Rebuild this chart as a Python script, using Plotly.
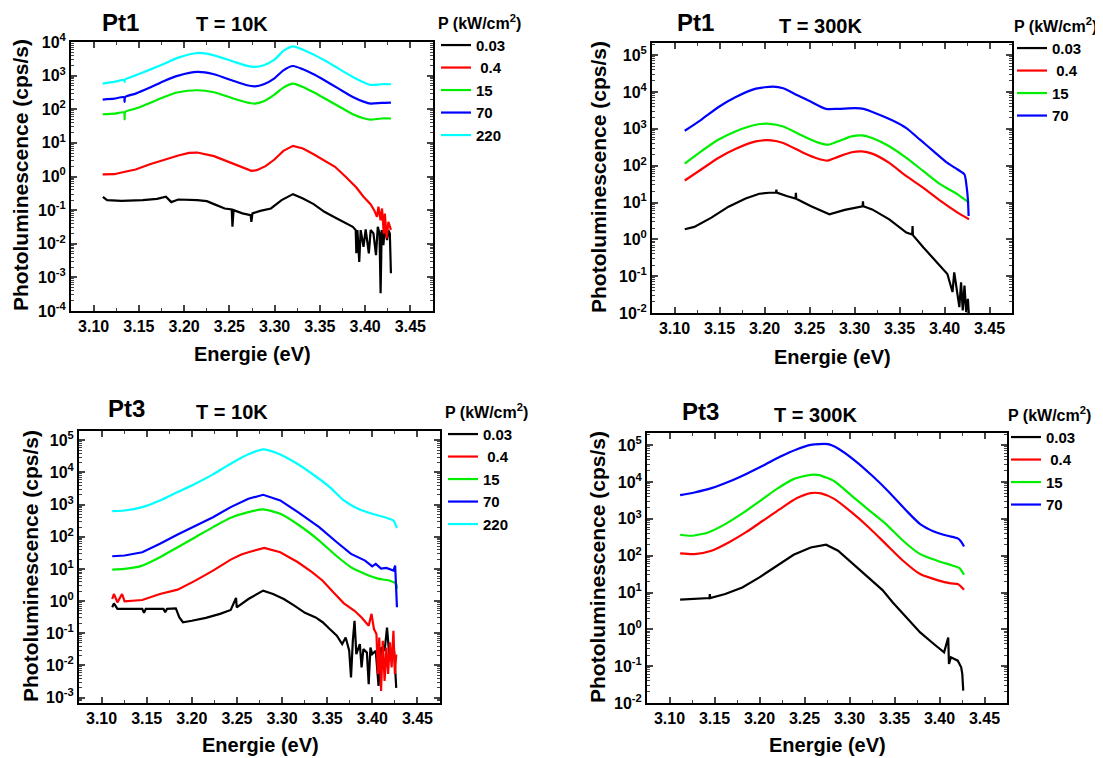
import plotly.graph_objects as go

# The page body has an 8 px margin, so the figure is drawn 8 px in from the top-left corner.
OFF = 8
W, H = 1103 - OFF, 758 - OFF
FONT = "Liberation Sans"

# ---------------- Panel 1 : Pt1, T = 10K ----------------
p1_E = [3.110, 3.1228, 3.1336, 3.1342, 3.1348, 3.1464, 3.1622, 3.1779, 3.1936, 3.2145, 3.233, 3.2526,
        3.2684, 3.2782, 3.288, 3.2998, 3.3097, 3.3203, 3.3313, 3.3431, 3.355, 3.3707, 3.3864, 3.3982,
        3.406, 3.4179, 3.4285]
p1_220 = [578, 649, 745, 650, 760, 1023, 1507, 2270, 3427, 4713, 4018, 2731, 1982, 1809, 2028, 2985,
          5410, 7431, 5918, 4208, 2852, 1614, 912, 634, 528, 554, 554]
p1_70 = [194, 207, 228, 165, 232, 292, 440, 695, 1000, 1285, 1096, 727, 528, 482, 554, 834, 1439, 1936,
         1542, 1096, 727, 411, 232, 169, 147, 154, 158]
p1_15 = [71, 74, 81, 50, 83, 105, 154, 232, 320, 367, 320, 217, 162, 147, 173, 273, 440, 578, 460, 320,
         212, 123, 71, 54, 49, 53, 53]
p1_E_04 = [3.110, 3.1228, 3.1346, 3.1464, 3.1622, 3.1779, 3.1936, 3.2054, 3.2145, 3.233, 3.2526, 3.2684,
           3.2743, 3.2802, 3.29, 3.2998, 3.3097, 3.3203, 3.3313, 3.3431, 3.355, 3.3667, 3.3785, 3.3903,
           3.3982, 3.406, 3.41, 3.4131, 3.4147, 3.4171, 3.4187, 3.4206, 3.4218, 3.4238, 3.4257, 3.4285]
p1_04 = [1.15, 1.17, 1.38, 1.61, 2.32, 3.20, 4.21, 5.05, 5.16, 4.02, 2.55, 1.73, 1.47, 1.54, 2.03, 3.20,
         5.78, 8.15, 6.79, 4.60, 3.05, 1.94, 0.98, 0.47, 0.25, 0.15, 0.10, 0.063, 0.126, 0.050, 0.112,
         0.020, 0.079, 0.0145, 0.045, 0.026]
p1_E_003 = [3.1102, 3.1149, 3.1307, 3.1543, 3.170, 3.1799, 3.1858, 3.1936, 3.2145, 3.2251, 3.233, 3.2448,
            3.2526, 3.2534, 3.2546, 3.2644, 3.2735, 3.2743, 3.2755, 3.2841, 3.2959, 3.3077, 3.3203,
            3.3313, 3.3431, 3.355, 3.3667, 3.3785, 3.3864, 3.3896, 3.3903, 3.3915, 3.3935, 3.3951,
            3.3982, 3.4006, 3.4041, 3.4061, 3.4092, 3.412, 3.414, 3.4159, 3.4171, 3.4183, 3.4202,
            3.4218, 3.4242, 3.4257, 3.4273, 3.4285]
p1_003 = [0.249, 0.198, 0.189, 0.198, 0.217, 0.249, 0.173, 0.207, 0.198, 0.185, 0.151, 0.112, 0.105,
          0.032, 0.100, 0.080, 0.071, 0.045, 0.080, 0.095, 0.112, 0.198, 0.299, 0.222, 0.151, 0.089,
          0.0605, 0.042, 0.032, 0.0255, 0.0052, 0.0255, 0.0029, 0.0255, 0.0081, 0.0267, 0.0052, 0.0255,
          0.0203, 0.0046, 0.032, 0.0203, 0.000335, 0.0255, 0.0091, 0.032, 0.0129, 0.0255, 0.0203, 0.00132]

# ---------------- Panel 2 : Pt1, T = 300K ----------------
p2_E_70 = [3.1114, 3.1296, 3.1486, 3.1676, 3.1904, 3.2094, 3.2208, 3.236, 3.2512, 3.2683, 3.2816, 3.3006,
           3.3101, 3.3234, 3.3424, 3.3576, 3.3728, 3.388, 3.4032, 3.4146, 3.4222, 3.4245, 3.426, 3.4268]
p2_70 = [887, 1758, 3860, 7200, 12330, 13960, 12590, 8320, 5500, 3480, 3480, 3630, 3480, 2660, 1686,
         1047, 507, 245, 119, 78.5, 57.5, 27.9, 12.2, 4.3]
p2_E_15 = [3.1114, 3.1296, 3.1486, 3.1676, 3.1904, 3.2056, 3.2208, 3.2436, 3.2588, 3.271, 3.2816, 3.2968,
           3.3082, 3.3196, 3.3386, 3.3576, 3.3766, 3.3956, 3.4146, 3.4272]
p2_15 = [114, 245, 507, 851, 1288, 1370, 1160, 624, 430, 372, 457, 624, 664, 562, 335, 162, 70.8, 30.9,
         16.6, 9.9]
p2_E_04 = [3.1114, 3.1296, 3.1486, 3.1676, 3.1904, 3.2075, 3.2208, 3.2436, 3.2588, 3.2702, 3.2816, 3.2968,
           3.3082, 3.3196, 3.3386, 3.3576, 3.3766, 3.3956, 3.4146, 3.4272]
p2_04 = [39.6, 78.5, 162, 284, 457, 486, 412, 221, 156, 137, 173, 231, 245, 212, 119, 51.9, 25.1, 11.0,
         5.3, 3.5]
p2_E_003 = [3.1114, 3.122, 3.141, 3.16, 3.179, 3.1942, 3.2056, 3.2128, 3.2132, 3.2136, 3.2246, 3.2345,
            3.2349, 3.2353, 3.2512, 3.2683, 3.2721, 3.2892, 3.3044, 3.309, 3.3094, 3.3098, 3.3196, 3.3386,
            3.3576, 3.3641, 3.3645, 3.3649, 3.3766, 3.388, 3.3956, 3.4032, 3.4089, 3.4108, 3.4165,
            3.4184, 3.4203, 3.4222, 3.4241, 3.426, 3.4272]
p2_003 = [1.88, 2.18, 3.89, 7.7, 12.9, 17.3, 18.4, 18.6, 22.5, 18.6, 15, 12.8, 18.4, 12.6, 8.0, 5.3, 4.8,
          6.3, 7.7, 7.9, 10.8, 7.9, 6.5, 3.5, 1.53, 1.35, 2.3, 1.3, 0.60, 0.29, 0.174, 0.115, 0.037,
          0.127, 0.0145, 0.068, 0.0117, 0.0556, 0.0106, 0.0243, 0.008]

# ---------------- Panel 3 : Pt3, T = 10K ----------------
p3_E_220 = [3.1118, 3.1255, 3.1451, 3.1647, 3.1843, 3.2039, 3.2235, 3.2431, 3.2627, 3.2791, 3.294, 3.3136,
            3.3332, 3.3528, 3.3685, 3.3842, 3.3999, 3.4156, 3.4234, 3.4273]
p3_220 = [627, 657, 836, 1349, 2455, 4467, 8710, 18750, 36640, 52480, 40270, 21130, 9120, 3510, 1349, 741,
          518, 389, 321, 185]
p3_E_70 = [3.1118, 3.1255, 3.1451, 3.1647, 3.1843, 3.2039, 3.2235, 3.2431, 3.2627, 3.2791, 3.298, 3.3176,
           3.3411, 3.3607, 3.3764, 3.392, 3.3999, 3.4038, 3.4097, 3.4156, 3.4234, 3.4253, 3.4265, 3.4273]
p3_70 = [24.8, 26.1, 33.1, 60.3, 117, 224, 407, 836, 1520, 2023, 1349, 583, 200, 67.6, 29.4, 18.2, 12.0,
         14.3, 10.2, 10.7, 8.9, 12.7, 1.66, 0.64]
p3_E_15 = [3.1118, 3.1255, 3.1451, 3.1647, 3.1843, 3.2039, 3.2235, 3.2431, 3.2627, 3.2791, 3.298, 3.3176,
           3.3411, 3.3607, 3.3764, 3.392, 3.4077, 3.4195, 3.4265, 3.4273]
p3_15 = [9.5, 10, 12.7, 23.1, 47.3, 97, 200, 389, 583, 708, 518, 241, 76.4, 24.8, 11.3, 7.0, 4.9, 4.3, 3.4,
         2.4]
p3_E_04 = [3.1118, 3.1137, 3.1176, 3.1227, 3.1255, 3.1451, 3.1647, 3.1765, 3.1843, 3.2039, 3.2235, 3.2431,
           3.2549, 3.2627, 3.2803, 3.298, 3.3176, 3.3332, 3.345, 3.3568, 3.3685, 3.3803, 3.3881, 3.396,
           3.3991, 3.4018, 3.4046, 3.4062, 3.4077, 3.4097, 3.4116, 3.4136, 3.4156, 3.4175, 3.4195,
           3.4214, 3.4234, 3.425, 3.4265]
p3_04 = [1.16, 1.66, 0.91, 1.66, 0.98, 1.08, 1.66, 2.01, 2.27, 4.32, 8.87, 19.5, 28, 33, 45.2, 33, 16.1,
         7.9, 4.3, 1.87, 0.85, 0.50, 0.31, 0.17, 0.40, 0.135, 0.094, 0.0054, 0.074, 0.0016, 0.058, 0.0033,
         0.036, 0.0054, 0.052, 0.0086, 0.12, 0.0054, 0.022]
p3_E_003 = [3.1118, 3.1137, 3.1176, 3.1451, 3.147, 3.149, 3.1686, 3.1705, 3.1725, 3.1823, 3.1862, 3.1902,
            3.20, 3.2156, 3.2313, 3.2431, 3.249, 3.2498, 3.2627, 3.2791, 3.29, 3.3019, 3.3136, 3.3254,
            3.3372, 3.345, 3.3528, 3.3607, 3.3666, 3.3705, 3.3744, 3.3764, 3.3784, 3.3803, 3.3823,
            3.3862, 3.3881, 3.3901, 3.394, 3.396, 3.3979, 3.3999, 3.4038, 3.4069, 3.4097, 3.4136,
            3.4163, 3.4187, 3.4214, 3.4242, 3.4265]
p3_003 = [0.64, 0.85, 0.57, 0.57, 0.43, 0.57, 0.57, 0.45, 0.57, 0.59, 0.31, 0.22, 0.245, 0.30, 0.40,
          0.53, 1.25, 0.64, 1.16, 2.11, 1.66, 1.16, 0.72, 0.43, 0.31, 0.22, 0.135, 0.0836, 0.046, 0.074,
          0.0285, 0.0042, 0.058, 0.245, 0.0224, 0.046, 0.0086, 0.032, 0.025, 0.0026, 0.036, 0.0224,
          0.0285, 0.0023, 0.036, 0.0285, 0.15, 0.0224, 0.0177, 0.0285, 0.002]

# ---------------- Panel 4 : Pt3, T = 300K ----------------
p4_E_70 = [3.1118, 3.1277, 3.1467, 3.1657, 3.1847, 3.2037, 3.2227, 3.2417, 3.2569, 3.2759, 3.2873, 3.3063,
           3.3253, 3.3443, 3.3633, 3.3785, 3.3937, 3.4089, 3.4203, 3.4241, 3.4272]
p4_70 = [4400, 5200, 6810, 10120, 16330, 27480, 48190, 77800, 102000, 106400, 81300, 37580, 14720, 5200,
         1652, 719, 455, 347, 294, 238, 178]
p4_E_15 = [3.1118, 3.1239, 3.1429, 3.1619, 3.1809, 3.1999, 3.2189, 3.2379, 3.2569, 3.2664, 3.2835, 3.3025,
           3.3215, 3.3405, 3.3595, 3.3785, 3.3975, 3.4127, 3.4222, 3.4272]
p4_15 = [369, 347, 427, 719, 1400, 2965, 6400, 11970, 15680, 15350, 10320, 4220, 1722, 719, 254, 110, 72.8,
         55.5, 46, 30.3]
p4_E_04 = [3.1118, 3.1277, 3.1467, 3.1657, 3.1847, 3.2037, 3.2227, 3.2417, 3.2569, 3.2683, 3.2835, 3.3025,
           3.3215, 3.3405, 3.3595, 3.3785, 3.3975, 3.4127, 3.4203, 3.4272]
p4_04 = [115, 110, 136, 229, 427, 885, 1835, 3650, 4990, 4890, 3425, 1490, 583, 206, 72.8, 31.6, 21.7,
         17.7, 16.9, 11.9]
p4_E_003 = [3.1118, 3.1277, 3.1444, 3.1448, 3.1452, 3.1619, 3.1809, 3.1999, 3.2189, 3.2379, 3.2569, 3.274,
            3.2873, 3.3063, 3.3253, 3.3367, 3.3481, 3.3633, 3.3785, 3.3937, 3.4051, 3.4097, 3.4105,
            3.4127, 3.4203, 3.4241, 3.4253, 3.4264]
p4_003 = [6.37, 6.64, 7.08, 9.06, 7.08, 9.06, 13.7, 25.7, 53.2, 106, 167, 198, 136, 53.2, 20.8, 11.6, 5.38,
          2.11, 0.826, 0.40, 0.237, 0.60, 0.115, 0.174, 0.141, 0.093, 0.062, 0.0216]

colors = {"0.03": "#000000", " 0.4": "#ff0000", "15": "#00ee00", "70": "#0000ff", "220": "#00ffff"}

# positions below are in screenshot pixels (x from left, y from top)
panels = [
    dict(series=[("0.03", p1_E_003, p1_003, False), (" 0.4", p1_E_04, p1_04, False),
                 ("15", p1_E, p1_15, True), ("70", p1_E, p1_70, True), ("220", p1_E, p1_220, True)],
         box=(71, 433, 42, 311), yr=(-4, 4), ytv=list(range(-4, 5)),
         pt="Pt1", T="T = 10K", pt_xy=(120, 22), T_xy=(232, 24),
         xt_xy=(252, 354), yt_xy=(20, 175), leg_xy=(436, 8)),
    dict(series=[("0.03", p2_E_003, p2_003, False), (" 0.4", p2_E_04, p2_04, True),
                 ("15", p2_E_15, p2_15, True), ("70", p2_E_70, p2_70, True)],
         box=(652, 1012, 43, 313), yr=(-2, 5.33), ytv=list(range(-2, 6)),
         pt="Pt1", T="T = 300K", pt_xy=(695, 22), T_xy=(821, 26),
         xt_xy=(832, 357), yt_xy=(598, 177), leg_xy=(1012, 11)),
    dict(series=[("0.03", p3_E_003, p3_003, False), (" 0.4", p3_E_04, p3_04, False),
                 ("15", p3_E_15, p3_15, True), ("70", p3_E_70, p3_70, False), ("220", p3_E_220, p3_220, True)],
         box=(79, 440, 431, 703), yr=(-3.17, 5.29), ytv=list(range(-3, 6)),
         pt="Pt3", T="T = 10K", pt_xy=(126, 409), T_xy=(232, 412),
         xt_xy=(260, 745), yt_xy=(30, 566), leg_xy=(443, 397)),
    dict(series=[("0.03", p4_E_003, p4_003, False), (" 0.4", p4_E_04, p4_04, True),
                 ("15", p4_E_15, p4_15, True), ("70", p4_E_70, p4_70, True)],
         box=(647, 1007, 433, 703), yr=(-2, 5.33), ytv=list(range(-2, 6)),
         pt="Pt3", T="T = 300K", pt_xy=(700, 412), T_xy=(815, 415),
         xt_xy=(827, 745), yt_xy=(597, 567), leg_xy=(1006, 400)),
]


def fx(px):
    return (px - OFF) / W


def fy(py):
    return 1 - (py - OFF) / H


fig = go.Figure()
layout = dict(width=W, height=H, margin=dict(l=0, r=0, t=0, b=0, autoexpand=False), autosize=False,
              paper_bgcolor="white", plot_bgcolor="white", showlegend=True,
              font=dict(family=FONT, color="black", weight="bold"))
annotations = []

for i, p in enumerate(panels, start=1):
    sfx = "" if i == 1 else str(i)
    leg = "legend" if i == 1 else f"legend{i}"
    for name, xs, ys, smooth in p["series"]:
        fig.add_trace(go.Scatter(
            x=xs, y=ys, mode="lines", name=name,
            line=dict(color=colors[name], width=2.2, shape="spline" if smooth else "linear",
                      smoothing=0.6 if smooth else None),
            xaxis=f"x{sfx}", yaxis=f"y{sfx}", legend=leg, showlegend=True))
    x0, x1, y0, y1 = p["box"]
    layout[f"xaxis{sfx}"] = dict(
        domain=[fx(x0), fx(x1)], anchor=f"y{sfx}", range=[3.075, 3.475],
        tick0=3.10, dtick=0.05, tickformat=".2f", ticks="inside", ticklen=6, tickwidth=1.5,
        showline=True, linewidth=2, linecolor="black", mirror="allticks", showgrid=False, zeroline=False,
        tickfont=dict(size=16, family=FONT, color="black", weight="bold"),
        minor=dict(dtick=0.025, tick0=3.10, ticks="inside", ticklen=3, tickwidth=1.2, showgrid=False))
    layout[f"yaxis{sfx}"] = dict(
        domain=[fy(y1), fy(y0)], anchor=f"x{sfx}", type="log", range=list(p["yr"]),
        tickmode="array", tickvals=[10 ** k for k in p["ytv"]],
        ticktext=[f"10<sup>{k}</sup>" for k in p["ytv"]],
        ticks="inside", ticklen=6, tickwidth=1.5, showline=True, linewidth=2, linecolor="black",
        mirror="allticks", showgrid=False, zeroline=False,
        tickfont=dict(size=16, family=FONT, color="black", weight="bold"),
        minor=dict(dtick="D1", ticks="inside", ticklen=3, tickwidth=1, showgrid=False))
    layout[leg] = dict(
        x=fx(p["leg_xy"][0]), y=fy(p["leg_xy"][1]), xanchor="left", yanchor="top",
        bgcolor="rgba(0,0,0,0)", borderwidth=0, tracegroupgap=0, itemwidth=30,
        traceorder="normal", font=dict(size=15, family=FONT, color="black", weight="bold"),
        title=dict(text="P (kW/cm<sup>2</sup>)", font=dict(size=16, family=FONT, color="black", weight="bold")))
    annotations.append(dict(text=p["pt"], x=fx(p["pt_xy"][0]), y=fy(p["pt_xy"][1]), xref="paper",
                            yref="paper", showarrow=False, xanchor="center", yanchor="middle",
                            font=dict(size=24, family=FONT, color="black", weight="bold")))
    annotations.append(dict(text=p["T"], x=fx(p["T_xy"][0]), y=fy(p["T_xy"][1]), xref="paper",
                            yref="paper", showarrow=False, xanchor="center", yanchor="middle",
                            font=dict(size=20, family=FONT, color="black", weight="bold")))
    annotations.append(dict(text="Energie (eV)", x=fx(p["xt_xy"][0]), y=fy(p["xt_xy"][1]), xref="paper",
                            yref="paper", showarrow=False, xanchor="center", yanchor="middle",
                            font=dict(size=20, family=FONT, color="black", weight="bold")))
    annotations.append(dict(text="Photoluminescence (cps/s)", x=fx(p["yt_xy"][0]), y=fy(p["yt_xy"][1]),
                            xref="paper", yref="paper", showarrow=False, xanchor="center",
                            yanchor="middle", textangle=-90,
                            font=dict(size=21, family=FONT, color="black", weight="bold")))

layout["annotations"] = annotations
fig.update_layout(**layout)
fig.write_html("out.html")
